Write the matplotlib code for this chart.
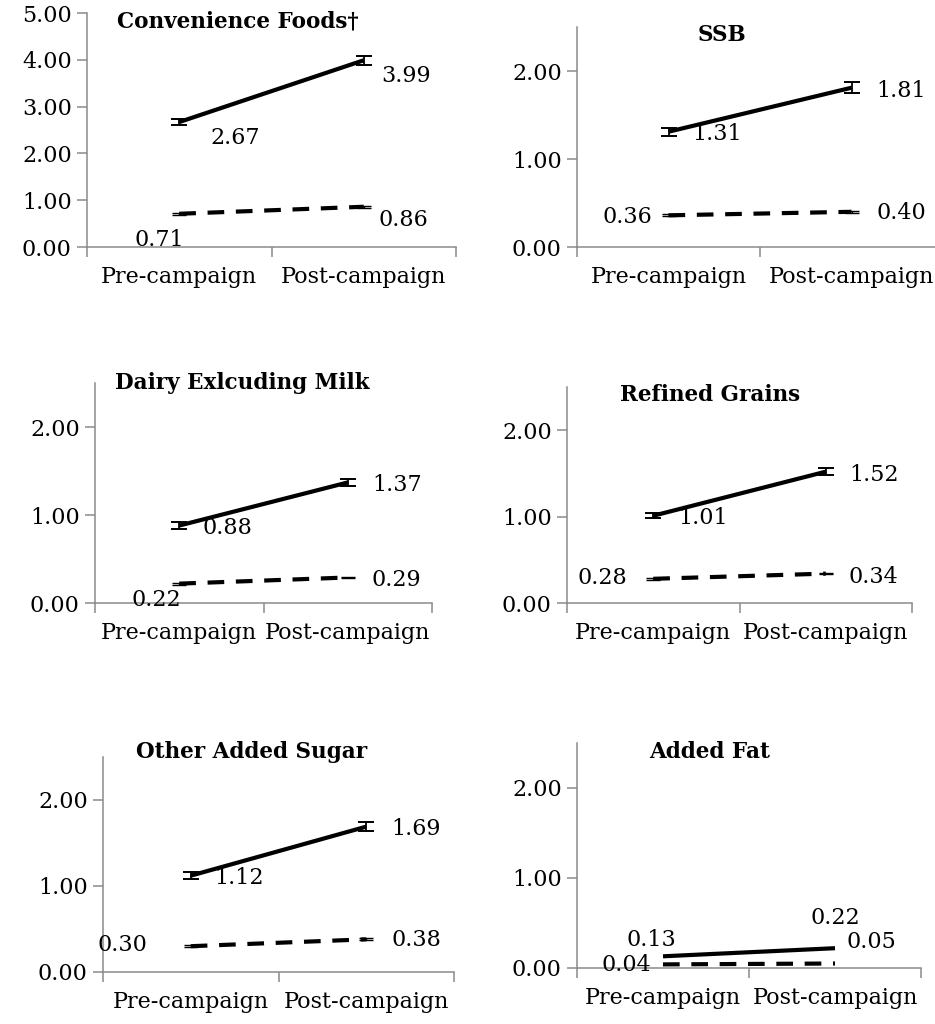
import matplotlib
matplotlib.use("Agg")
import matplotlib.pyplot as plt
from matplotlib.ticker import FixedLocator, NullFormatter, FixedFormatter

plt.rcParams['font.family'] = ['DejaVu Serif']

categories = ["Pre-campaign", "Post-campaign"]
panel_titles = ["Convenience Foods\u2020", "SSB", "Dairy Exlcuding Milk",
                "Refined Grains", "Other Added Sugar", "Added Fat"]
solid_vals = [[2.67, 3.99], [1.31, 1.81], [0.88, 1.37],
              [1.01, 1.52], [1.12, 1.69], [0.13, 0.22]]
dashed_vals = [[0.71, 0.86], [0.36, 0.40], [0.22, 0.29],
               [0.28, 0.34], [0.30, 0.38], [0.04, 0.05]]
solid_err = [[0.06, 0.10], [0.045, 0.06], [0.04, 0.04],
             [0.03, 0.04], [0.04, 0.05], [0.0, 0.0]]
dashed_err = [[0.02, 0.02], [0.01, 0.01], [0.01, 0.01],
              [0.01, 0.01], [0.01, 0.01], [0.0, 0.0]]
y_max = [5.0, 2.5, 2.5, 2.5, 2.5, 2.5]
y_ticks = [[0, 1, 2, 3, 4, 5], [0, 1, 2], [0, 1, 2], [0, 1, 2], [0, 1, 2], [0, 1, 2]]

W, H = 935, 1024
# axes boxes in pixels: left, right, top, bottom
boxes = [(87, 456, 13, 247), (577, 943, 27, 247),
         (95, 432, 383, 603), (567, 912, 387, 603),
         (103, 454, 757, 972), (577, 921, 743, 968)]
title_pos = [(238, 22), (722, 35), (242, 383), (710, 395), (252, 752), (710, 752)]
# label offsets (dx, dy-down) in pixels
solid_off = [[(56, 16), (42, 16)], [(49, 2), (50, 3)], [(48, 2), (49, 3)],
             [(50, 2), (48, 3)], [(48, 2), (50, 2)], [(-12, -16), (0, -30)]]
dashed_off = [[(-20, 26), (40, 13)], [(-41, 2), (50, 1)], [(-23, 16), (49, 3)],
              [(-51, -1), (48, 3)], [(-68, -1), (50, 1)], [(-37, 1), (36, -21)]]

GRAY = '#8a8a8a'
FS = 16

fig = plt.figure(figsize=(W / 100, H / 100), dpi=100)
xs = [0.5, 1.5]
for i in range(6):
    l, r, t, b = boxes[i]
    ax = fig.add_axes([l / W, 1 - b / H, (r - l) / W, (b - t) / H])
    ax.set_xlim(0, 2)
    ax.set_ylim(0, y_max[i])
    for s in ['top', 'right']:
        ax.spines[s].set_visible(False)
    for s in ['left', 'bottom']:
        ax.spines[s].set_color(GRAY)
        ax.spines[s].set_linewidth(1.1)
    ax.set_yticks(y_ticks[i])
    ax.set_yticklabels([f"{v:.2f}" for v in y_ticks[i]], fontsize=FS)
    ax.tick_params(axis='y', direction='out', length=7, width=1.1, color=GRAY, pad=4)
    ax.xaxis.set_major_locator(FixedLocator([0, 1, 2]))
    ax.xaxis.set_major_formatter(NullFormatter())
    ax.xaxis.set_minor_locator(FixedLocator(xs))
    ax.xaxis.set_minor_formatter(FixedFormatter(categories))
    ax.tick_params(axis='x', which='major', direction='out', length=7, width=1.1, color=GRAY)
    ax.tick_params(axis='x', which='minor', length=0, pad=14, labelsize=FS)
    ax.patch.set_alpha(0)

    # solid series
    ax.plot(xs, solid_vals[i], color='black', lw=3.0, solid_capstyle='butt', zorder=3)
    if max(solid_err[i]) > 0:
        ax.errorbar(xs, solid_vals[i], yerr=solid_err[i], fmt='none', ecolor='black',
                    elinewidth=1.3, capsize=6, capthick=1.4, zorder=4)
    # dashed series
    ax.plot(xs, dashed_vals[i], color='black', lw=3.0, dashes=(4.0, 2.8),
            dash_capstyle='butt', zorder=3)
    if max(dashed_err[i]) > 0:
        ax.errorbar(xs, dashed_vals[i], yerr=dashed_err[i], fmt='none', ecolor='black',
                    elinewidth=1.0, capsize=5, capthick=1.0, zorder=4)

    for j in range(2):
        dx, dy = solid_off[i][j]
        ax.annotate(f"{solid_vals[i][j]:.2f}", (xs[j], solid_vals[i][j]),
                    xytext=(dx, -dy), textcoords='offset pixels',
                    ha='center', va='center', fontsize=FS, zorder=5)
        dx, dy = dashed_off[i][j]
        ax.annotate(f"{dashed_vals[i][j]:.2f}", (xs[j], dashed_vals[i][j]),
                    xytext=(dx, -dy), textcoords='offset pixels',
                    ha='center', va='center', fontsize=FS, zorder=5)

    tx, ty = title_pos[i]
    fig.text(tx / W, 1 - ty / H, panel_titles[i], ha='center', va='center',
             fontsize=15.5, fontweight='bold')

fig.savefig('out.png', dpi=100)
